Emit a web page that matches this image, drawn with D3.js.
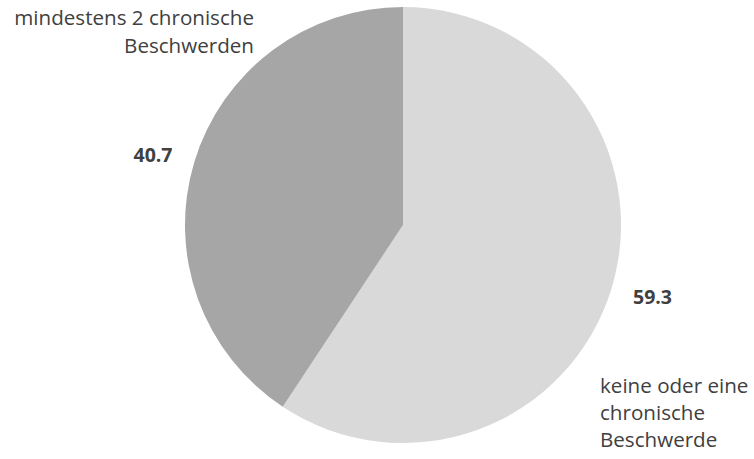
<!DOCTYPE html>
<html><head><meta charset="utf-8">
<script src="https://cdn.jsdelivr.net/npm/d3@7"></script>
<style>body{margin:0;background:#fff}svg{display:block}text{font-family:"Open Sans",sans-serif;fill:#404040}</style>
</head><body>
<svg id="c" width="754" height="459"></svg>
<script>
const categories = ["keine oder eine chronische Beschwerde", "mindestens 2 chronische Beschwerden"];
const values = [59.3, 40.7];
const valueLabels = ["59.3", "40.7"];
const colors = ["#d9d9d9", "#a6a6a6"];

const svg = d3.select("#c");
const cx = 403, cy = 225, r = 218;
const g = svg.append("g").attr("transform", `translate(${cx},${cy})`);
const pie = d3.pie().sort(null).value(d => d);
const arcs = pie(values);
const arc = d3.arc().innerRadius(0).outerRadius(r);
g.selectAll("path").data(arcs).enter().append("path")
  .attr("d", arc).attr("fill", (d, i) => colors[i]);

// value labels
const valPos = [[652.5, 303.5], [153, 162]];
svg.selectAll("text.val").data(valueLabels).enter().append("text")
  .attr("class", "val").attr("x", (d, i) => valPos[i][0]).attr("y", (d, i) => valPos[i][1])
  .attr("text-anchor", "middle").attr("font-weight", "bold").attr("font-size", 19.5).text(d => d);

// category labels
const catLines = [["keine oder eine", "chronische", "Beschwerde"], ["mindestens 2 chronische", "Beschwerden"]];
const catPos = [{x: 600, y: 392.5, anchor: "start", lh: 27.4}, {x: 254, y: 24.5, anchor: "end", lh: 28.5}];
catLines.forEach((lines, i) => {
  const p = catPos[i];
  const t = svg.append("text").attr("x", p.x).attr("y", p.y).attr("text-anchor", p.anchor).attr("font-size", 20.6);
  lines.forEach((l, j) => t.append("tspan").attr("x", p.x).attr("dy", j === 0 ? 0 : p.lh).text(l));
});
</script>
</body></html>
